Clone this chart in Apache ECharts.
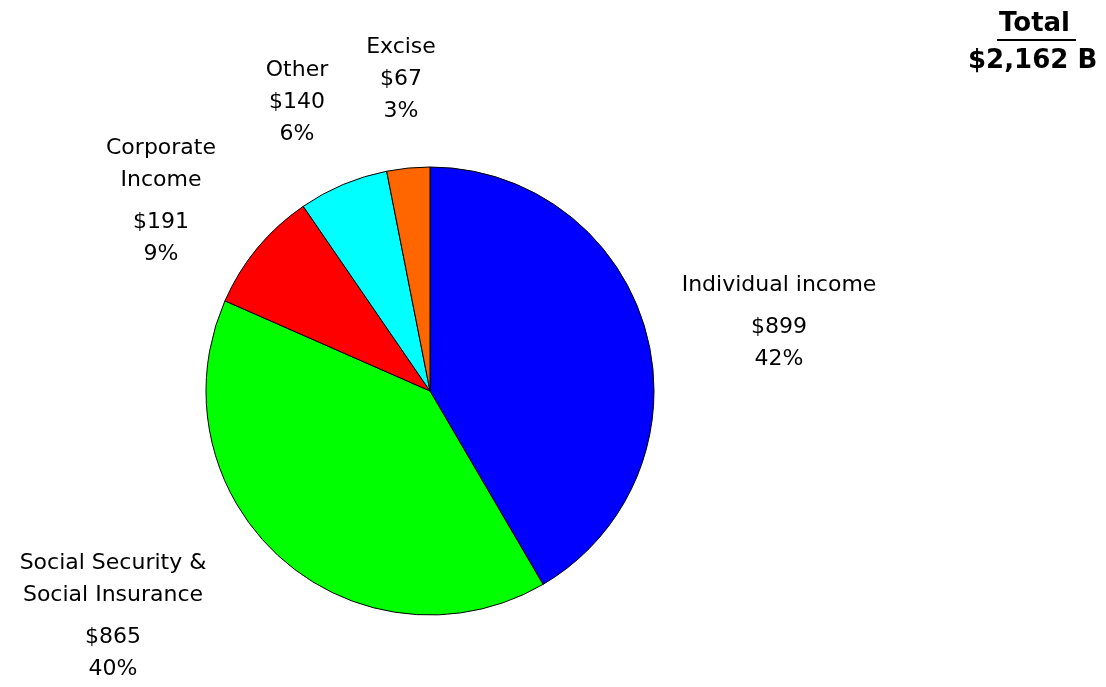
<!DOCTYPE html>
<html>
<head>
<meta charset="utf-8">
<script src="https://cdn.jsdelivr.net/npm/echarts@6/dist/echarts.min.js"></script>
<style>html,body{margin:0;padding:0;background:#fff;}#main{width:1106px;height:687px;}</style>
</head>
<body>
<div id="main"></div>
<script>
var categories = ['Individual income', 'Social Security &\nSocial Insurance', 'Corporate\nIncome', 'Other', 'Excise'];
var values = [899, 865, 191, 140, 67];
var colors = ['#0000FF', '#00FF00', '#FF0000', '#00FFFF', '#FF6600'];
var totalTitle = 'Total';
var unit = 'B';

var total = values.reduce(function (a, b) { return a + b; }, 0);
function fmtNum(n) { return n.toString().replace(/\B(?=(\d{3})+(?!\d))/g, ','); }

// label placement (layout only)
var labelPos = [
  { x: 779, y: 269, gap: true },
  { x: 113, y: 547, gap: true },
  { x: 161, y: 132, gap: true },
  { x: 297, y: 54, gap: false },
  { x: 401, y: 31, gap: false }
];

var chart = echarts.init(document.getElementById('main'));
var FONT = 'DejaVu Sans';
chart.setOption({
  backgroundColor: '#ffffff',
  animation: false,
  graphic: [
    { type: 'text', left: 999, top: 11, style: { text: totalTitle, font: 'bold 26px "' + FONT + '"', fill: '#000' } },
    { type: 'line', shape: { x1: 997, y1: 40, x2: 1076, y2: 40 }, style: { stroke: '#000', lineWidth: 2 } },
    { type: 'text', left: 968, top: 48, style: { text: '$' + fmtNum(total) + ' ' + unit, font: 'bold 26px "' + FONT + '"', fill: '#000' } }
  ],
  series: [{
    type: 'pie',
    center: [430, 391],
    radius: 224,
    startAngle: 90,
    clockwise: true,
    avoidLabelOverlap: false,
    itemStyle: { borderColor: '#000', borderWidth: 1 },
    emphasis: { disabled: true },
    labelLine: { show: false },
    label: {
      show: true,
      position: 'outside',
      color: '#000',
      fontFamily: FONT,
      fontSize: 22,
      align: 'center',
      formatter: function (p) {
        var pct = Math.round(p.value / total * 100);
        var spacer = labelPos[p.dataIndex].gap ? '\n{s| }' : '';
        return '{n|' + p.name + '}' + spacer + '\n{v|$' + p.value + '}\n{v|' + pct + '%}';
      },
      rich: {
        n: { fontFamily: FONT, fontSize: 22, lineHeight: 32, color: '#000', align: 'center' },
        v: { fontFamily: FONT, fontSize: 22, lineHeight: 32, color: '#000', align: 'center' },
        s: { fontSize: 4, lineHeight: 10 }
      }
    },
    labelLayout: function (params) {
      var lp = labelPos[params.dataIndex];
      return { x: lp.x, y: lp.y, align: 'center', verticalAlign: 'top' };
    },
    data: categories.map(function (c, i) {
      return { name: c, value: values[i], itemStyle: { color: colors[i] } };
    })
  }]
});
</script>
</body>
</html>
